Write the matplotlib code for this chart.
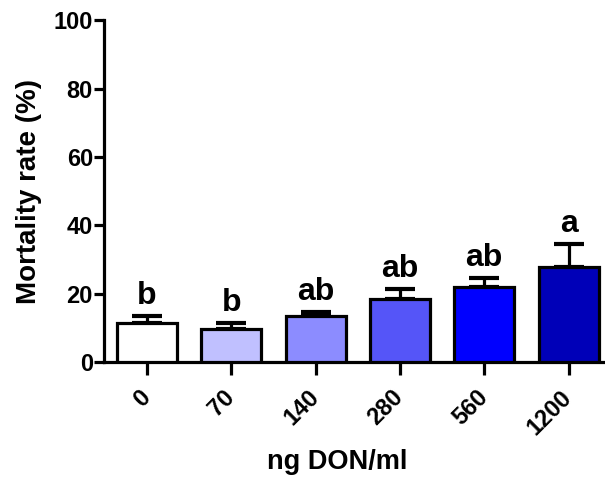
import matplotlib
matplotlib.use("Agg")
import matplotlib.pyplot as plt
import matplotlib.transforms as mtransforms
import numpy as np

categories = ["0", "70", "140", "280", "560", "1200"]
means = [11.4, 9.6, 13.4, 18.4, 21.9, 27.8]
sem = [2.1, 1.8, 1.2, 2.9, 2.7, 6.7]
letters = ["b", "b", "ab", "ab", "ab", "a"]
colors = ["#FFFFFF", "#C0C0FF", "#8C8CFF", "#5555F8", "#0000FF", "#0000B8"]
yticks = [0, 20, 40, 60, 80, 100]

plt.rcParams['font.family'] = ['Liberation Sans', 'DejaVu Sans']
plt.rcParams['font.weight'] = 'bold'

fig = plt.figure(figsize=(6.05, 4.79), dpi=100)
ax = fig.add_axes([0.172, 0.244, 0.825, 0.714])

x = np.arange(len(categories))
ax.bar(x, means, width=0.71, color=colors, edgecolor='black', linewidth=2.3, zorder=3)
ax.errorbar(x, means, yerr=[np.zeros(len(sem)), sem], fmt='none', ecolor='black',
            elinewidth=2.3, capsize=11, capthick=3.0, zorder=2)

for xi, m, s, t in zip(x, means, sem, letters):
    ax.text(xi, m + s + 1.5, t, ha='center', va='bottom', fontsize=23, fontweight='bold')

ax.set_xlim(-0.51, 5.41)
ax.set_ylim(0, 100)
ax.set_yticks(yticks)
ax.set_xticks(x)
ax.set_xticklabels(categories, rotation=45, ha='right', rotation_mode='default')

for sp in ['top', 'right']:
    ax.spines[sp].set_visible(False)
for sp in ['left', 'bottom']:
    ax.spines[sp].set_linewidth(2.3)

ax.tick_params(axis='y', length=7, width=2.3, labelsize=17, pad=1)
ax.tick_params(axis='x', length=9, width=2.3, labelsize=17, pad=8)
shift = mtransforms.ScaledTranslation(8 / 100, 0, fig.dpi_scale_trans)
for lab in ax.get_xticklabels():
    lab.set_transform(lab.get_transform() + shift)
for lab in ax.get_xticklabels() + ax.get_yticklabels():
    lab.set_fontweight('bold')

ax.set_ylabel("Mortality rate (%)", fontsize=20, fontweight='bold', labelpad=8)
ax.set_xlabel("ng DON/ml", fontsize=19.5, fontweight='bold', labelpad=6)
ax.xaxis.set_label_coords(0.467, -0.255)

fig.savefig("out.png", dpi=100)
